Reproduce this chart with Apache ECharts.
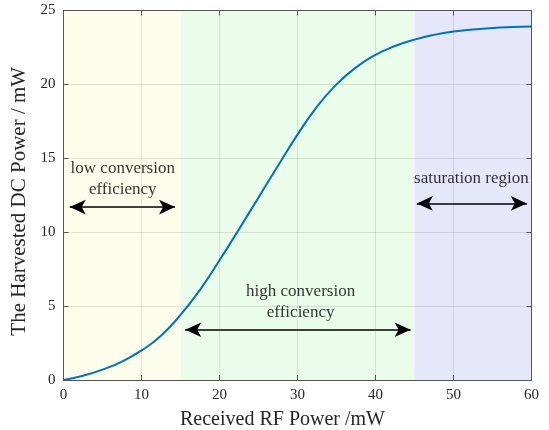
<!DOCTYPE html>
<html>
<head>
<meta charset="utf-8">
<script src="https://cdn.jsdelivr.net/npm/echarts@6/dist/echarts.min.js"></script>
<style>
  html, body { margin: 0; padding: 0; background: #fff; }
  #chart { width: 549px; height: 430px; }
</style>
</head>
<body>
<div id="chart"></div>
<script>
// Received RF power (mW) and harvested DC power (mW)
const rfPower = [0, 2.5, 5, 7.5, 10, 12.5, 15, 17.5, 20, 22.5, 25, 27.5, 30,
                 32.5, 35, 37.5, 40, 42.5, 45, 47.5, 50, 52.5, 55, 57.5, 60];
const dcPower = [0, 0.29, 0.7, 1.25, 2.0, 3.0, 4.4, 6.1, 8.1, 10.2, 12.35, 14.5, 16.6,
                 18.5, 20.0, 21.15, 22.0, 22.6, 23.03, 23.35, 23.58, 23.72, 23.82, 23.88, 23.92];

// Operating regions along the x axis
const regionEdges = [0, 15, 45, 60];
const regionNames = ['low conversion\nefficiency', 'high conversion\nefficiency', 'saturation region'];

// Double-headed arrows: [xStart, xEnd, y]
const arrowSpans = [[0.8, 14.3, 11.7], [15.6, 44.5, 3.4], [45.3, 59.4, 11.95]];
// Region label anchors: [x, y]
const labelAnchors = [[7.6, 13.6], [30.4, 5.25], [52.3, 13.6]];

const xTicks = [0, 10, 20, 30, 40, 50, 60];
const yTicks = [0, 5, 10, 15, 20, 25];

const regionFill = ['#fdfdeb', '#eafcea', '#e7e7fc'];
const serif = 'Liberation Serif';
const ink = '#262626';

const chart = echarts.init(document.getElementById('chart'), null, { renderer: 'canvas' });

const axisLineStyle = { color: '#555555', width: 1 };
const tickStyle = { show: true, inside: true, length: 5, lineStyle: { color: '#555555' } };

const option = {
  animation: false,
  backgroundColor: '#ffffff',
  grid: { left: 63.5, right: 17.5, top: 10.5, bottom: 50, containLabel: false, outerBoundsMode: 'none' },
  xAxis: [
    {
      type: 'value', min: xTicks[0], max: xTicks[xTicks.length - 1], interval: 10,
      name: 'Received RF Power /mW', nameLocation: 'middle', nameGap: 30,
      nameTextStyle: { fontFamily: serif, fontSize: 20, color: ink, padding: [0, 30, 0, 0] },
      axisLine: { show: true, onZero: false, lineStyle: axisLineStyle },
      axisTick: tickStyle,
      axisLabel: { fontFamily: serif, fontSize: 15, color: ink, margin: 8 },
      splitLine: { show: true, lineStyle: { color: 'rgba(38,38,38,0.12)', width: 1 } },
      z: 10
    },
    {
      type: 'value', position: 'top', min: xTicks[0], max: xTicks[xTicks.length - 1], interval: 10,
      axisLine: { show: true, onZero: false, lineStyle: axisLineStyle },
      axisTick: tickStyle, axisLabel: { show: false }, splitLine: { show: false }, z: 10
    }
  ],
  yAxis: [
    {
      type: 'value', min: yTicks[0], max: yTicks[yTicks.length - 1], interval: 5,
      name: 'The Harvested DC Power / mW', nameLocation: 'middle', nameGap: 25, nameRotate: 90,
      nameTextStyle: { fontFamily: serif, fontSize: 21, color: ink, padding: [0, 12, 0, 0] },
      axisLine: { show: true, onZero: false, lineStyle: axisLineStyle },
      axisTick: tickStyle,
      axisLabel: { fontFamily: serif, fontSize: 15, color: ink, margin: 8 },
      splitLine: { show: true, lineStyle: { color: 'rgba(38,38,38,0.12)', width: 1 } },
      z: 10
    },
    {
      type: 'value', position: 'right', min: yTicks[0], max: yTicks[yTicks.length - 1], interval: 5,
      axisLine: { show: true, onZero: false, lineStyle: axisLineStyle },
      axisTick: tickStyle, axisLabel: { show: false }, splitLine: { show: false }, z: 10
    }
  ],
  series: [
    {
      // shaded operating regions
      type: 'line', data: [], silent: true,
      markArea: {
        silent: true,
        data: regionNames.map((_, i) => [
          { xAxis: regionEdges[i], itemStyle: { color: regionFill[i] } },
          { xAxis: regionEdges[i + 1] }
        ])
      },
      z: 0
    },
    {
      // harvested power curve
      type: 'line',
      data: rfPower.map((x, i) => [x, dcPower[i]]),
      showSymbol: false, smooth: 0.5,
      lineStyle: { color: '#0072BD', width: 2 },
      z: 5
    },
    {
      // double-headed arrows marking each region
      type: 'line', data: [], silent: true,
      markLine: {
        silent: true,
        symbol: ['arrow', 'arrow'], symbolSize: [11, 16],
        label: { show: false },
        lineStyle: { color: '#000000', width: 1.5, type: 'solid' },
        data: arrowSpans.map(a => [{ coord: [a[0], a[2]] }, { coord: [a[1], a[2]] }])
      },
      z: 6
    },
    {
      // region labels
      type: 'scatter', silent: true, symbolSize: 0,
      data: labelAnchors.map((p, i) => ({ value: p, name: regionNames[i] })),
      label: {
        show: true, position: 'inside', formatter: p => p.name,
        fontFamily: serif, fontSize: 17, lineHeight: 21, color: '#000000',
        textBorderWidth: 0, align: 'center'
      },
      z: 7
    }
  ]
};

chart.setOption(option);
</script>
</body>
</html>
